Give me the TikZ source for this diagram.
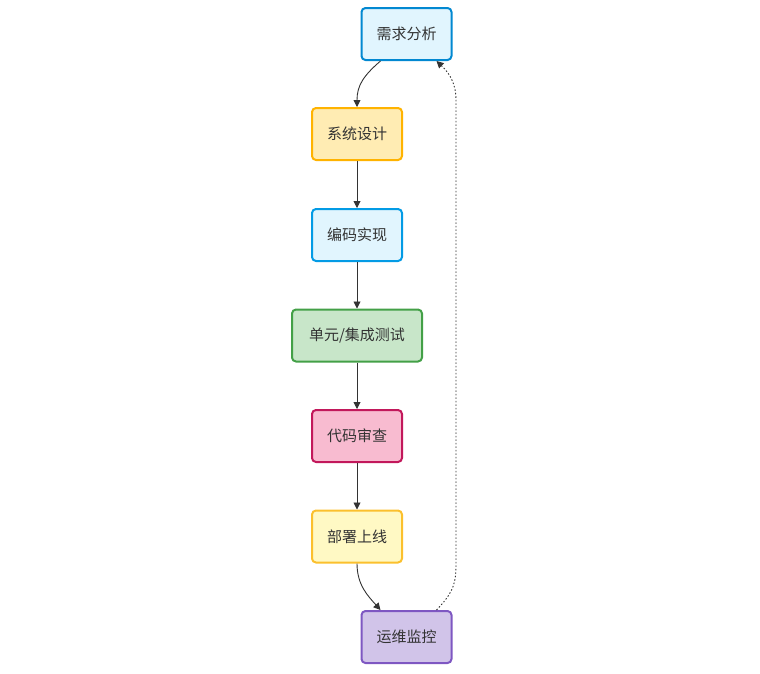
\documentclass[tikz,border=0pt]{standalone}
\usepackage{fontspec}
\newfontfamily\cjk{Noto Sans CJK SC}
\usetikzlibrary{arrows.meta}
\definecolor{bA}{HTML}{E1F5FE}\definecolor{dA}{HTML}{0288D1}
\definecolor{bB}{HTML}{FFECB3}\definecolor{dB}{HTML}{FFB300}
\definecolor{dC}{HTML}{039BE5}
\definecolor{bD}{HTML}{C8E6C9}\definecolor{dD}{HTML}{43A047}
\definecolor{bE}{HTML}{F8BBD0}\definecolor{dE}{HTML}{C2185B}
\definecolor{bF}{HTML}{FFF9C4}\definecolor{dF}{HTML}{FBC02D}
\definecolor{bG}{HTML}{D1C4E9}\definecolor{dG}{HTML}{7E57C2}
\definecolor{txt}{HTML}{333333}
\begin{document}
\begin{tikzpicture}[x=1pt,y=-1pt,
  box/.style={draw, line width=2pt, rounded corners=4pt, minimum height=52pt, minimum width=90pt, inner sep=0pt, font=\cjk\fontsize{15pt}{17pt}\selectfont, text=txt},
  arr/.style={draw=txt, line width=0.9pt, -{Triangle[length=7pt,width=7pt]}},
  dot/.style={draw=txt, line width=0.9pt, dash pattern=on 1.5pt off 2pt, -{Triangle[length=7pt,width=7pt]}}]
\useasboundingbox (0,0) rectangle (760,673);
\node[box, fill=bA, draw=dA] (n1) at (406.5,34) {需求分析};
\node[box, fill=bB, draw=dB] (n2) at (357,134) {系统设计};
\node[box, fill=bA, draw=dC] (n3) at (357,235) {编码实现};
\node[box, fill=bD, draw=dD, minimum width=130pt] (n4) at (357,335.5) {单元/集成测试};
\node[box, fill=bE, draw=dE] (n5) at (357,436) {代码审查};
\node[box, fill=bF, draw=dF] (n6) at (357,536.5) {部署上线};
\node[box, fill=bG, draw=dG] (n7) at (406.5,637) {运维监控};
\draw[arr] ([xshift=-26pt]n1.south) .. controls (363,76) and (357,86) .. (n2.north);
\draw[arr] (n2) -- (n3);
\draw[arr] (n3) -- (n4);
\draw[arr] (n4) -- (n5);
\draw[arr] (n5) -- (n6);
\draw[arr] (n6.south) .. controls (357,585) and (368,596) .. ([xshift=-26pt]n7.north);
\draw[dot] ([xshift=30pt]n7.north) .. controls (456,590) and (456,580) .. (456,560) -- (456,100) .. controls (456,80) and (446,70) .. ([xshift=30pt]n1.south);
\end{tikzpicture}
\end{document}
